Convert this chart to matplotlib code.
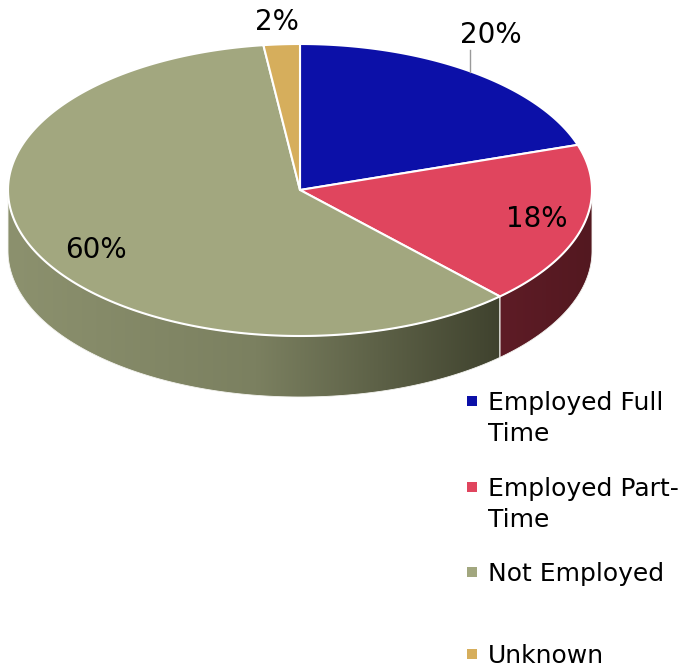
import numpy as np
import matplotlib.pyplot as plt
from matplotlib.patches import Polygon
from matplotlib.colors import LinearSegmentedColormap

# data
categories = ['Employed Full\nTime', 'Employed Part-\nTime', 'Not Employed', 'Unknown']
values = [20, 18, 60, 2]
pct_labels = ['20%', '18%', '60%', '2%']

# styling
top_colors = ['#0c10a8', '#e0455e', '#a2a77f', '#d6ae5c']
side_colors = [['#07096b', '#07096b'],
               ['#5e1c26', '#531820'],
               ['#8c916e', '#7b8060', '#3e412d'],
               ['#9a7b3c', '#8a6d33']]
label_pos = [(491, 35), (537, 219), (96, 250), (277, 22)]

cx, cy, rx, ry, depth = 300, 190, 292, 146, 61


def ell(t, dy=0):
    t = np.radians(t)
    return np.column_stack([cx + rx * np.cos(t), cy - ry * np.sin(t) + dy])


fig = plt.figure(figsize=(6.89, 6.69), dpi=100)
ax = fig.add_axes([0, 0, 1, 1])
ax.set_xlim(0, 689)
ax.set_ylim(669, 0)
ax.axis('off')

total = float(sum(values))
start = 90.0
slices = []
for v in values:
    end = start - v / total * 360
    slices.append((end, start))
    start = end

# side walls (front half only)
for i, (a0, a1) in enumerate(slices):
    for k in range(-2, 2):
        lo = max(a0, 180 + 360 * k)
        hi = min(a1, 360 + 360 * k)
        if hi <= lo:
            continue
        ts = np.linspace(lo, hi, 120)
        top = ell(ts)
        bot = ell(ts[::-1], depth)
        pts = np.vstack([top, bot])
        poly = Polygon(pts, closed=True, facecolor='none', edgecolor='#f4f4f0',
                       linewidth=0.6, zorder=2)
        ax.add_patch(poly)
        cmap = LinearSegmentedColormap.from_list('s%d' % i, side_colors[i])
        grad = np.linspace(0, 1, 256).reshape(1, -1)
        x0, x1 = pts[:, 0].min(), pts[:, 0].max()
        if i == 2:
            x0, x1 = cx - rx, cx + rx * 0.7
        im = ax.imshow(grad, cmap=cmap, aspect='auto',
                       extent=(x0, x1, pts[:, 1].max(), pts[:, 1].min()),
                       zorder=1, interpolation='bilinear')
        im.set_clip_path(poly)

ax.set_xlim(0, 689)
ax.set_ylim(669, 0)

# top face
for i, (a0, a1) in enumerate(slices):
    ts = np.linspace(a1, a0, 200)
    pts = np.vstack([[cx, cy], ell(ts)])
    ax.add_patch(Polygon(pts, closed=True, facecolor=top_colors[i],
                         edgecolor='white', linewidth=1.5, joinstyle='round', zorder=3))

# data labels
for (x, y), s in zip(label_pos, pct_labels):
    ax.text(x, y, s, ha='center', va='center', fontsize=20, color='black', zorder=5)
ax.plot([470, 470], [50, 72], color='#9a9a9a', linewidth=1, zorder=4)

# legend
leg_y = [401, 487, 572, 654]
for y, lab, c in zip(leg_y, categories, top_colors):
    ax.scatter([472], [y], marker='s', s=52, color=c, zorder=5, linewidths=0)
    ax.text(488, y - 10, lab, ha='left', va='top', fontsize=18,
            linespacing=1.37, color='black', zorder=5)

fig.savefig('out.png', dpi=100)
